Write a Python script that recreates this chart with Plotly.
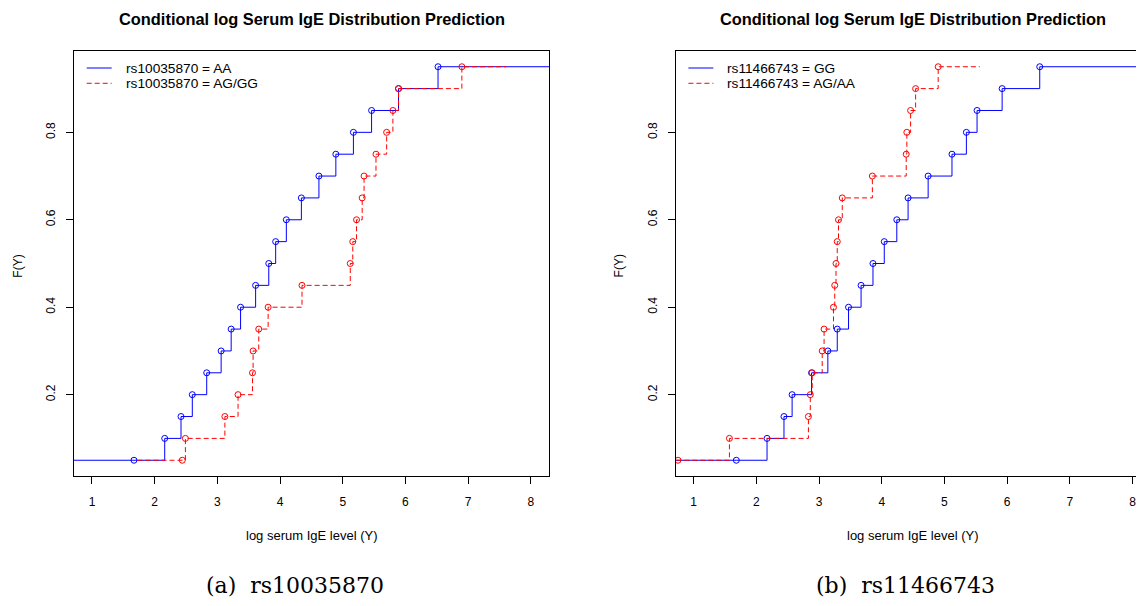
"""Conditional log serum IgE distribution prediction, two SNP panels side by side."""

import plotly.graph_objects as go

# quantile levels shared by every curve
F_LEVELS = [0.05, 0.10, 0.15, 0.20, 0.25, 0.30, 0.35, 0.40, 0.45, 0.50,
            0.55, 0.60, 0.65, 0.70, 0.75, 0.80, 0.85, 0.90, 0.95]

# (a) rs10035870
RS1_AA = [1.67, 2.16, 2.42, 2.60, 2.83, 3.06, 3.22, 3.37, 3.61, 3.82,
          3.93, 4.10, 4.34, 4.62, 4.89, 5.17, 5.46, 5.89, 6.52]
RS1_AGGG = [2.44, 2.49, 3.12, 3.33, 3.56, 3.57, 3.66, 3.81, 4.35, 5.12,
            5.16, 5.22, 5.31, 5.34, 5.53, 5.70, 5.80, 5.89, 6.90]

# (b) rs11466743
RS2_GG = [1.68, 2.17, 2.44, 2.57, 2.88, 3.14, 3.29, 3.47, 3.67, 3.86,
          4.04, 4.24, 4.42, 4.74, 5.12, 5.35, 5.52, 5.92, 6.52]
RS2_AGAA = [0.75, 1.57, 2.83, 2.86, 2.89, 3.05, 3.08, 3.23, 3.25, 3.27,
            3.29, 3.31, 3.37, 3.85, 4.39, 4.40, 4.46, 4.54, 4.90]

X_TICKS = [1, 2, 3, 4, 5, 6, 7, 8]
Y_TICKS = [0.2, 0.4, 0.6, 0.8]

TITLE = "Conditional log Serum IgE Distribution Prediction"
XLAB = "log serum IgE level (Y)"
YLAB = "F(Y)"

SANS = "Liberation Sans, Arial, Helvetica, sans-serif"
BLUE = "#0000ff"
RED = "#ff0000"
DASH = "5px,3px"

XR = [0.713, 8.29]
YR = [0.014, 0.986]

# the page body has an 8px margin, so the figure starts at (8, 8) of the window
OFF = 8
FW, FH = 1144 - OFF, 606 - OFF


def px(x):
    return (x - OFF) / FW


def py(y):
    return 1 - (y - OFF) / FH


def step_xy(knots, levels, lo=None, hi=None):
    # like R's plot.stepfun: without xlim the ends stick out by 2*0.08*range
    ext = 0.16 * (max(knots) - min(knots))
    lo = min(knots) - ext if lo is None else lo
    hi = max(knots) + ext if hi is None else hi
    xs = [lo] + list(knots) + [hi]
    ys = [levels[0]] + list(levels) + [levels[-1]]
    return xs, ys


def add_curve(fig, knots, color, dash, ax, full=False):
    if full:
        xs, ys = step_xy(knots, F_LEVELS, XR[0] - 1, XR[1] + 1)
    else:
        xs, ys = step_xy(knots, F_LEVELS)
    fig.add_trace(go.Scatter(
        x=xs, y=ys, mode="lines", line=dict(color=color, width=1, dash=dash, shape="hv"),
        showlegend=False, xaxis="x" + ax, yaxis="y" + ax, hoverinfo="skip",
    ))
    fig.add_trace(go.Scatter(
        x=knots, y=F_LEVELS, mode="markers",
        marker=dict(symbol="circle-open", size=6, color=color, line=dict(width=1, color=color)),
        showlegend=False, xaxis="x" + ax, yaxis="y" + ax, hoverinfo="skip",
    ))


fig = go.Figure()
add_curve(fig, RS1_AA, BLUE, "solid", "", full=True)
add_curve(fig, RS1_AGGG, RED, DASH, "")
add_curve(fig, RS2_GG, BLUE, "solid", "2", full=True)
add_curve(fig, RS2_AGAA, RED, DASH, "2")

# window-pixel boxes of the two panels (right one runs off the page edge)
L0, L1 = 74, 549
R0 = 675.7
PX_PER_UNIT = (L1 - L0) / (XR[1] - XR[0])
R_XMAX = XR[0] + (1144 - R0) / PX_PER_UNIT
TOP, BOT = 51, 476

axis_common = dict(
    showgrid=False, zeroline=False, showline=True, linecolor="black", linewidth=1,
    ticks="outside", ticklen=7, tickwidth=1, tickcolor="black",
    tickfont=dict(family=SANS, size=12, color="black"),
)
ydom = [py(BOT), py(TOP)]

fig.update_layout(
    width=FW, height=FH,
    margin=dict(l=0, r=0, t=0, b=0),
    paper_bgcolor="white", plot_bgcolor="white",
    showlegend=False,
    xaxis=dict(domain=[px(L0), px(L1)], range=XR, tickvals=X_TICKS, mirror=True,
               anchor="y", ticklabelstandoff=8, **axis_common),
    yaxis=dict(domain=ydom, range=YR, tickvals=Y_TICKS, tickangle=-90, mirror=True,
               anchor="x", ticklabelstandoff=6, **axis_common),
    xaxis2=dict(domain=[px(R0), 1.0], range=[XR[0], R_XMAX], tickvals=X_TICKS, mirror=True,
                anchor="y2", ticklabelstandoff=8, **axis_common),
    yaxis2=dict(domain=ydom, range=YR, tickvals=Y_TICKS, tickangle=-90, mirror=False,
                anchor="x2", ticklabelstandoff=6, **axis_common),
)


def note(text, x, y, size, family=SANS, angle=0, xanchor="center"):
    fig.add_annotation(text=text, x=px(x), y=py(y), xref="paper", yref="paper",
                       xanchor=xanchor, yanchor="middle", textangle=angle, showarrow=False,
                       font=dict(family=family, size=size, color="black"))


r_center = R0 + (L1 - L0) / 2
for cx in ((L0 + L1) / 2, r_center):
    note("<b>%s</b>" % TITLE, cx, 19, 16.4)
    note(XLAB, cx, 535, 13)
for xpx in (17.7, R0 - 56.3):
    note(YLAB, xpx, 266, 12, angle=-90)

# legends, drawn the way R's legend() lays them out
LEGENDS = [
    (L0, ["rs10035870 = AA", "rs10035870 = AG/GG"]),
    (R0, ["rs11466743 = GG", "rs11466743 = AG/AA"]),
]
for x0, labels in LEGENDS:
    for i, (lab, color, dash) in enumerate(zip(labels, (BLUE, RED), ("solid", DASH))):
        yy = 68 + i * 15.3
        fig.add_shape(type="line", xref="paper", yref="paper",
                      x0=px(x0 + 12.7), x1=px(x0 + 37.7), y0=py(yy), y1=py(yy),
                      line=dict(color=color, width=1, dash=dash))
        note(lab, x0 + 49.5, yy, 13.7, xanchor="left")

# sub-figure captions
note("(a)\u00a0\u00a0rs10035870", 295, 585, 22, family="DejaVu Serif, serif")
note("(b)\u00a0\u00a0rs11466743", 905, 585, 22, family="DejaVu Serif, serif")

fig.write_html("out.html")
